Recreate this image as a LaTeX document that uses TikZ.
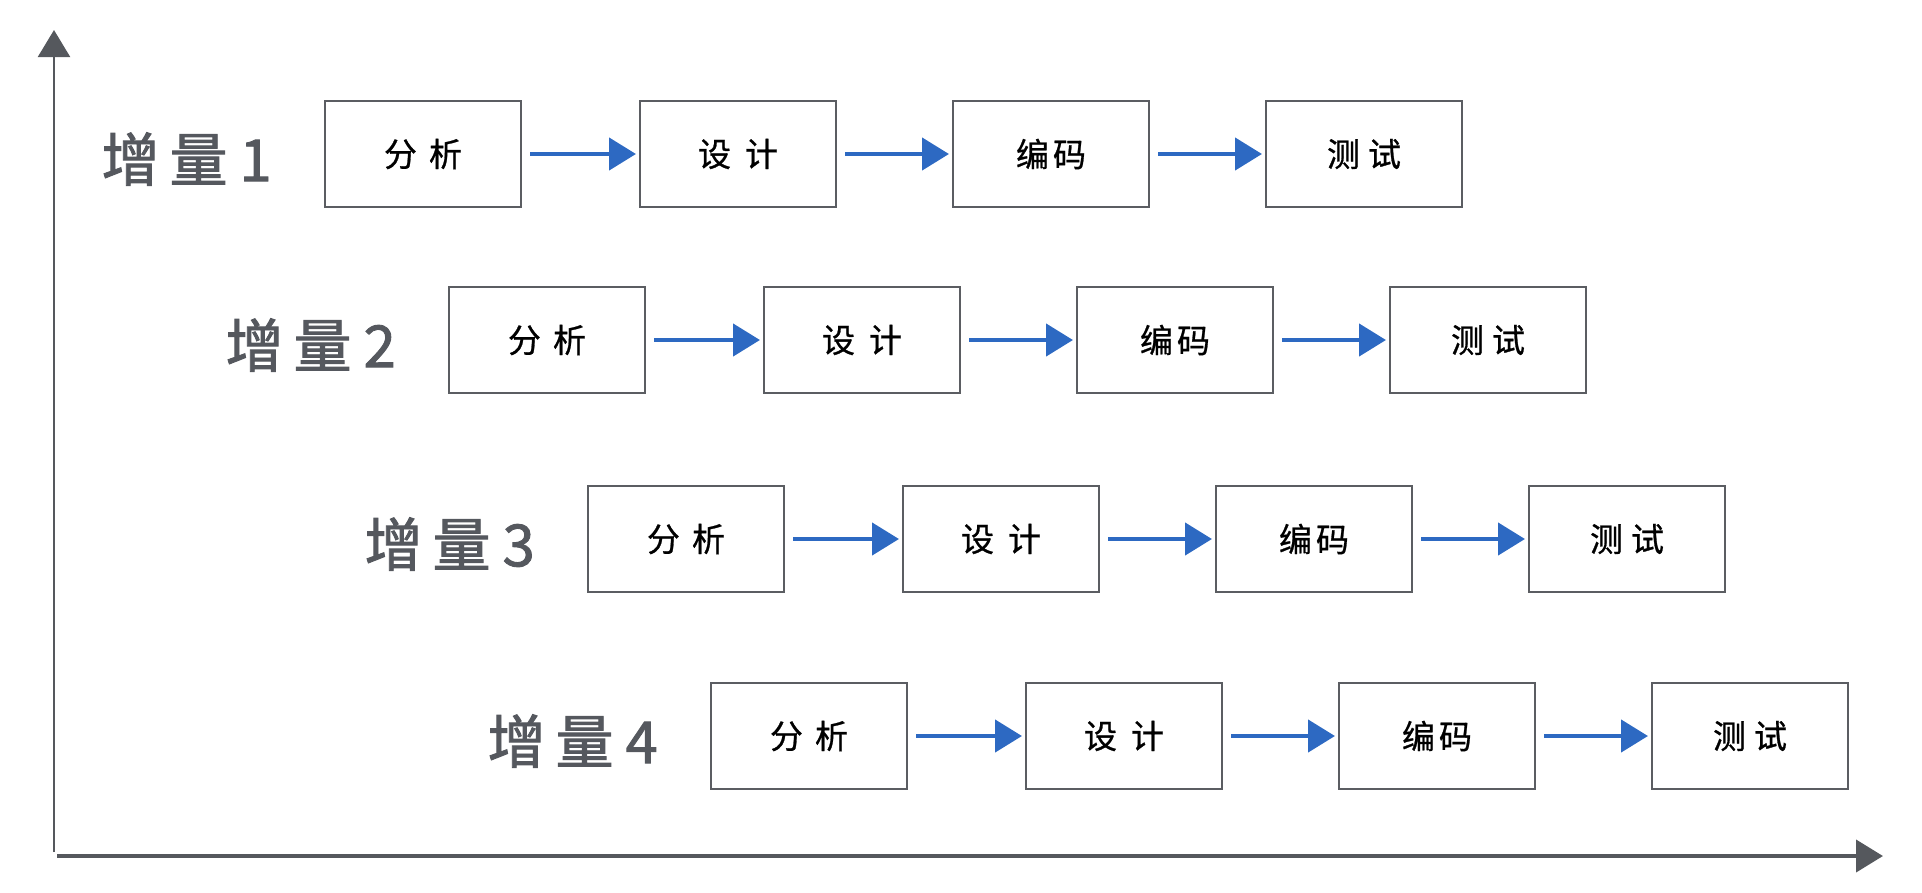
\documentclass[tikz,border=0pt]{standalone}
\usepackage{fontspec}
\newfontfamily\cjk[FakeBold=0.8]{Noto Sans CJK SC}
\newfontfamily\cjkm[FakeBold=1.6]{Noto Sans CJK SC}
\usetikzlibrary{arrows.meta}
\definecolor{labgray}{HTML}{55585E}
\definecolor{boxgray}{HTML}{5B5D62}
\definecolor{arrowblue}{HTML}{2D69C2}
\definecolor{axisgray}{HTML}{55585D}
\begin{document}
\begin{tikzpicture}[x=1pt,y=-1pt,
  stage/.style={draw=boxgray, line width=2pt, minimum width=196pt, minimum height=106pt, inner sep=0pt, text=black, font=\cjk\fontsize{33}{33}\selectfont},
  inc/.style={anchor=east, inner sep=0pt, text=labgray, font=\cjkm\fontsize{58}{58}\selectfont},
  flow/.style={draw=arrowblue, line width=4.5pt, -{Triangle[length=27pt,width=32pt]}, shorten <=8pt, shorten >=3pt},
  axisline/.style={draw=axisgray, -{Triangle[length=27pt,width=32pt]}}]
\useasboundingbox (0,0) rectangle (1922,892);
% axes
\coordinate (ybot) at (54,852);
\coordinate (ytip) at (54,30);
\coordinate (xbeg) at (57,856);
\coordinate (xtip) at (1883,856);
\draw[axisline, line width=2.2pt] (ybot) -- (ytip);
\draw[axisline, line width=4pt] (xbeg) -- (xtip);
% rows
\foreach \r/\y/\x/\lab in {1/154/423/1, 2/340/547/2, 3/539/686/3, 4/736/809/4}{
  \node[stage] (s\r a) at (\x,\y) {分\hspace{12pt}析};
  \node[stage] (s\r b) at (\x+315,\y) {设\hspace{14pt}计};
  \node[stage] (s\r c) at (\x+628,\y) {编\hspace{4pt}码};
  \node[stage] (s\r d) at (\x+941,\y) {测\hspace{8pt}试};
  \node[inc] (L\r) at ([xshift=-52pt,yshift=-5pt]s\r a.west) {增\hspace{10pt}量\hspace{12pt}\lab};
  \draw[flow] (s\r a.east) -- (s\r b.west);
  \draw[flow] (s\r b.east) -- (s\r c.west);
  \draw[flow] (s\r c.east) -- (s\r d.west);
}
\end{tikzpicture}
\end{document}
